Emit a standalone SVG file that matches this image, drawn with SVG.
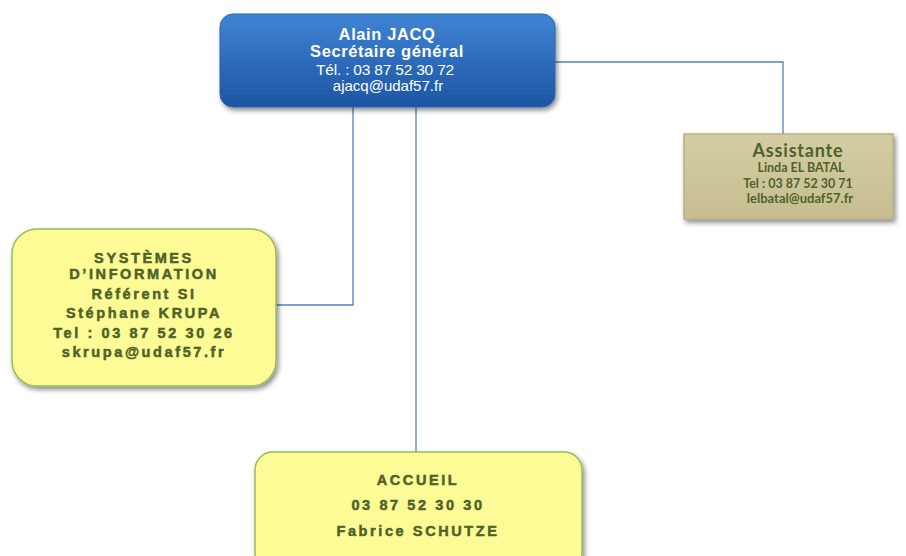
<svg xmlns="http://www.w3.org/2000/svg" width="906" height="556" viewBox="0 0 906 556">
<defs>
<linearGradient id="gBlue" x1="0" y1="0" x2="0" y2="1">
<stop offset="0" stop-color="#3f84d4"/>
<stop offset="1" stop-color="#1d55a3"/>
</linearGradient>
<linearGradient id="gKhaki" x1="0" y1="0" x2="0" y2="1">
<stop offset="0" stop-color="#d4cda4"/>
<stop offset="1" stop-color="#c6be91"/>
</linearGradient>
<filter id="sh" x="-10%" y="-10%" width="125%" height="130%">
<feGaussianBlur in="SourceAlpha" stdDeviation="2.5"/>
<feOffset dx="2" dy="3"/>
<feComponentTransfer><feFuncA type="linear" slope="0.45"/></feComponentTransfer>
<feMerge><feMergeNode/><feMergeNode in="SourceGraphic"/></feMerge>
</filter>
</defs>
<style>
.conn{fill:none;stroke:#4f81bd;stroke-width:1.3}
.wt{fill:#ffffff;font-family:"Liberation Sans",Arial,sans-serif;text-anchor:middle}
.gt{fill:#4f6228;stroke:#4f6228;stroke-width:0.5;font-family:"Liberation Sans",Arial,sans-serif;font-weight:bold;text-anchor:middle;letter-spacing:2.6px;font-size:14.5px}
.kt{fill:#4f6228;font-family:Lato,"Liberation Sans",sans-serif;text-anchor:middle;font-weight:bold}
.yel{fill:#fdfb96;stroke:#9bbb59;stroke-width:1.5}
</style>
<rect width="906" height="556" fill="#ffffff"/>
<g id="connectors">
<polyline class="conn" points="555,62 783,62 783,134"/>
<polyline class="conn" points="353,107 353,305 276,305"/>
<line class="conn" x1="416" y1="107" x2="416" y2="452"/>
</g>
<g id="secretaire">
<rect x="220" y="14" width="335" height="93" rx="13" fill="url(#gBlue)" stroke="#2a63ad" stroke-width="1" filter="url(#sh)"/>
<text class="wt" x="387" y="40" font-size="16.5" font-weight="bold" letter-spacing="0.6">Alain JACQ</text>
<text class="wt" x="387" y="57" font-size="16.5" font-weight="bold" letter-spacing="0.6">Secrétaire général</text>
<text class="wt" x="385" y="75" font-size="15.5" letter-spacing="-0.2">Tél. : 03 87 52 30 72</text>
<text class="wt" x="388" y="91" font-size="15">ajacq@udaf57.fr</text>
</g>
<g id="assistante">
<rect x="684" y="134" width="209" height="85" fill="url(#gKhaki)" stroke="#b8b083" stroke-width="1.5" filter="url(#sh)"/>
<text class="kt" x="798" y="157" font-size="18" font-weight="900" letter-spacing="0.8">Assistante</text>
<text class="kt" x="801" y="172" font-size="12.5">Linda  EL BATAL</text>
<text class="kt" x="798" y="188" font-size="12.5">Tel : 03 87 52 30 71</text>
<text class="kt" x="800" y="203" font-size="13">lelbatal@udaf57.fr</text>
</g>
<g id="systemes">
<rect class="yel" x="12" y="229" width="264" height="157" rx="25" filter="url(#sh)"/>
<text class="gt" x="144" y="263">SYSTÈMES</text>
<text class="gt" x="144" y="279">D’INFORMATION</text>
<text class="gt" x="144" y="299">Référent SI</text>
<text class="gt" x="144" y="318">Stéphane KRUPA</text>
<text class="gt" x="144" y="338">Tel : 03 87 52 30 26</text>
<text class="gt" x="144" y="357">skrupa@udaf57.fr</text>
</g>
<g id="accueil">
<rect class="yel" x="255" y="452" width="327" height="120" rx="18" filter="url(#sh)"/>
<text class="gt" x="418" y="485">ACCUEIL</text>
<text class="gt" x="418" y="510">03 87 52 30 30</text>
<text class="gt" x="418" y="536">Fabrice SCHUTZE</text>
</g>
</svg>
